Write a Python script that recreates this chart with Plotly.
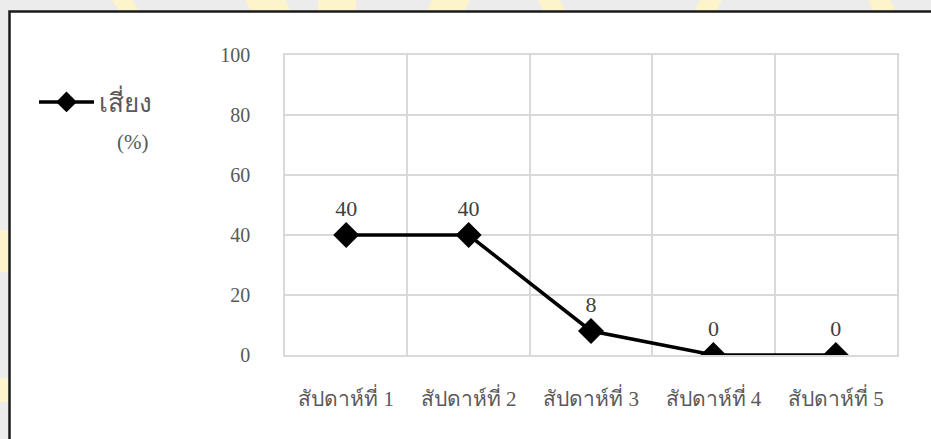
import plotly.graph_objects as go

categories = ["สัปดาห์ที่ 1", "สัปดาห์ที่ 2", "สัปดาห์ที่ 3", "สัปดาห์ที่ 4", "สัปดาห์ที่ 5"]
values = [40, 40, 8, 0, 0]
series_name = "เสี่ยง"
y_ticks = [0, 20, 40, 60, 80, 100]

W, H = 931, 439
L, R, T, B = 285, 897, 55, 355

def px(x):
    return (x - L) / (R - L)

def py(y):
    return (B - y) / (B - T)

fig = go.Figure()
fig.add_trace(go.Scatter(
    x=categories, y=values, name=series_name,
    mode="lines+markers+text",
    line=dict(color="black", width=3.5),
    marker=dict(symbol="diamond", size=20, color="black"),
    text=[str(v) for v in values],
    textposition="top center",
    textfont=dict(family="Liberation Serif", size=22, color="#404040"),
))

shapes = []
# watermark bits in the grey surround
for x0, x1, k in [(112, 132, 8), (245, 285, 6), (318, 356, 0), (432, 470, -6), (538, 560, 6), (700, 722, -6), (868, 890, 6)]:
    shapes.append(dict(type="path", xref="paper", yref="paper",
                       path=f"M {px(x0)} {py(0)} L {px(x1)} {py(0)} L {px(x1 + k)} {py(12)} L {px(x0 + k)} {py(12)} Z",
                       fillcolor="#fdf4cc", line=dict(width=0), layer="below"))
for y0, y1 in [(230, 272), (378, 402)]:
    shapes.append(dict(type="rect", xref="paper", yref="paper",
                       x0=px(0), x1=px(9), y0=py(y1), y1=py(y0),
                       fillcolor="#fdf4cc", line=dict(width=0), layer="below"))
# white chart box with black border
shapes.append(dict(type="rect", xref="paper", yref="paper",
                   x0=px(9.5), x1=px(945), y0=py(450), y1=py(11.5),
                   fillcolor="white", line=dict(color="#1a1a1a", width=2.5), layer="below"))

fig.update_layout(
    width=W, height=H,
    margin=dict(l=L, r=W - R, t=T, b=H - B),
    paper_bgcolor="#ebeceb",
    plot_bgcolor="white",
    showlegend=True,
    legend=dict(x=px(34), y=py(102), xanchor="left", yanchor="middle",
                bgcolor="rgba(0,0,0,0)", itemwidth=55,
                font=dict(family="Liberation Serif", size=26, color="#595959")),
    shapes=shapes,
    annotations=[dict(text="(%)", xref="paper", yref="paper", x=px(132), y=py(142),
                      showarrow=False, xanchor="center", yanchor="middle",
                      font=dict(family="Liberation Serif", size=21, color="#595959"))],
    xaxis=dict(
        type="category", range=[-0.5, 4.5],
        tickson="boundaries", ticks="", showgrid=True,
        gridcolor="#d9d9d9", gridwidth=1.5,
        showline=True, linecolor="#d9d9d9", linewidth=1.5, mirror=True,
        tickfont=dict(family="Liberation Serif", size=21, color="#595959"),
        ticklabelstandoff=24,
    ),
    yaxis=dict(
        range=[0, 100], tickvals=y_ticks, ticks="",
        gridcolor="#d9d9d9", gridwidth=1.5, zeroline=False,
        showline=True, linecolor="#d9d9d9", linewidth=1.5, mirror=True,
        tickfont=dict(family="Liberation Serif", size=20, color="#595959"),
        ticklabelstandoff=29,
    ),
)

fig.write_html("out.html")
